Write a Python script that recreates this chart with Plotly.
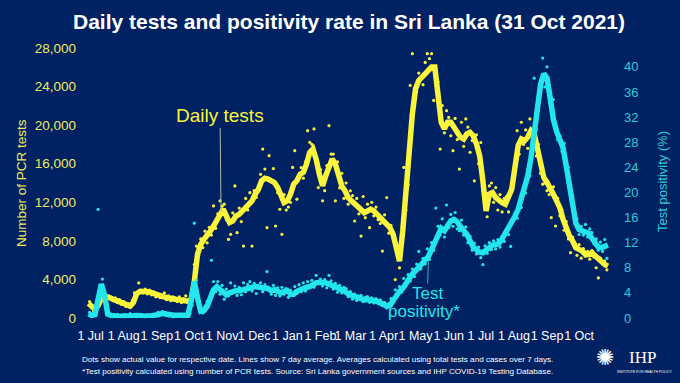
import pandas as pd
import plotly.graph_objects as go

# ---------------- data ----------------
start_date = "2020-06-29"          # first 7-day-average point
first_dot_date = "2020-06-30"      # first daily dot

# 7-day averages, every 3rd day
tests_avg = [
    1500, 1200, 900, 1300, 2000, 2250, 2200, 2050, 1900, 1750,
    1600, 1450, 1300, 1250, 1600, 2500, 2750, 2800, 2750, 2700,
    2550, 2400, 2300, 2250, 2150, 2050, 2000, 1950, 1900, 1850,
    1800, 1750, 1900, 3800, 6600, 7630, 8150, 8500, 9000, 9540,
    10060, 10750, 11280, 10580, 9890, 10060, 10580, 10750, 11100, 11280,
    11800, 12150, 12840, 13360, 14230, 14500, 14400, 14230, 14050, 13530,
    12670, 11970, 12150, 12840, 13880, 14230, 14920, 15100, 15960, 17180,
    17520, 16480, 14920, 13700, 14750, 15790, 16480, 15960, 14570, 13700,
    13190, 12490, 12150, 11800, 11450, 11100, 10930, 11100, 11280, 11100,
    10750, 10410, 10060, 9720, 9370, 8680, 6940, 5900, 9020, 13190,
    16300, 21170, 23770, 24640, 24980, 25330, 25850, 26030, 26030, 23600,
    20300, 19610, 20300, 20300, 19780, 19090, 18740, 18560, 19090, 19260,
    18910, 18040, 16830, 14230, 11100, 12840, 13010, 12490, 12150, 11970,
    11800, 12490, 13360, 15620, 17870, 18560, 18390, 18740, 19430, 19090,
    17520, 16140, 14570, 14050, 13530, 12840, 12150, 11450, 10240, 9200,
    8500, 7980, 7290, 7110, 6940, 6590, 6590, 6770, 6420, 6070,
    5900, 5550, 5380,
]

positivity_avg = [
    0.64, 0.42, 0.53, 2.65, 5.4, 3.7, 0.64, 0.42, 0.3, 0.3,
    0.25, 0.3, 0.25, 0.3, 0.35, 0.4, 0.3, 0.25, 0.3, 0.3,
    0.35, 0.4, 0.55, 0.75, 0.65, 0.45, 0.35, 0.4, 0.45, 0.4,
    0.35, 0.45, 2.65, 5.8, 3.2, 1.06, 1.17, 1.86, 3.2, 4.5,
    5.0, 4.5, 4.0, 3.7, 4.0, 4.25, 4.35, 4.35, 4.5, 4.5,
    4.7, 4.9, 5.0, 4.9, 4.8, 4.9, 4.7, 4.35, 4.5, 4.25,
    4.0, 4.25, 4.35, 3.8, 3.8, 4.25, 4.5, 4.7, 4.9, 5.0,
    5.4, 5.6, 5.7, 5.7, 5.6, 5.4, 5.2, 5.0, 4.7, 4.5,
    4.25, 3.8, 3.6, 3.3, 3.2, 3.1, 2.9, 2.9, 2.9, 2.8,
    2.65, 2.4, 2.1, 1.9, 2.0, 2.8, 3.8, 4.25, 4.7, 5.6,
    6.4, 7.0, 7.5, 8.1, 8.6, 9.1, 9.8, 10.9, 12.2, 13.5,
    14.3, 13.9, 14.9, 15.5, 15.7, 15.3, 14.6, 14.1, 13.3, 12.3,
    11.3, 10.9, 10.5, 10.4, 10.9, 11.4, 11.6, 11.7, 11.9, 12.6,
    13.4, 14.3, 15.1, 16.2, 17.3, 18.9, 20.6, 22.6, 25.5, 29.7,
    33.5, 37.2, 38.9, 38.2, 35.0, 31.6, 29.7, 28.1, 27.1, 24.2,
    21.2, 18.3, 15.1, 14.1, 13.9, 13.8, 13.5, 12.7, 11.8, 11.3,
    11.2, 11.4, 11.6,
]

# daily values (dots), every 2nd day
tests_daily = [
    1700, 1100, 700, 1000, 1500, 2000, 2400, 2600, 2000, 2300,
    2200, 1800, 2100, 1600, 1900, 1400, 1700, 1200, 1500, 1100,
    1800, 2600, 2400, 3640, 2900, 2600, 3000, 2500, 2900, 2400,
    2700, 2200, 2500, 2100, 2400, 2600, 1900, 2300, 1800, 2200,
    2100, 1700, 2200, 1600, 2000, 2300, 1600, 2000, 2500, 5550,
    7460, 6500, 8200, 7300, 9000, 7800, 9400, 8600, 11620, 9300,
    10800, 12150, 11600, 11800, 10200, 8150, 8680, 10900, 13700, 8850,
    11400, 10000, 7460, 12400, 11200, 13000, 7460, 13200, 12500, 13700,
    14900, 17520, 15440, 9370, 16830, 14200, 15500, 9540, 13000, 11280,
    8680, 12800, 11200, 11500, 12000, 15620, 17350, 12320, 14800, 15600,
    14500, 16200, 19430, 18220, 18000, 19610, 16000, 13530, 15400, 12150,
    13200, 15800, 19950, 17000, 17000, 12150, 16200, 13500, 15000, 12400,
    14000, 11800, 13190, 12700, 10060, 12400, 10800, 8500, 12600, 10400,
    11800, 9370, 12000, 10600, 11500, 10200, 9800, 6940, 10700, 12490,
    8800, 9600, 8300, 3990, 7000, 5200, 8000, 15620, 11200, 13800,
    24120, 27410, 22000, 23500, 25400, 28110, 24200, 26500, 27410, 26890,
    27410, 22560, 25200, 24500, 17520, 22030, 19200, 21500, 20800, 18900,
    17350, 20700, 18500, 15440, 20300, 17800, 20640, 19800, 17180, 18400,
    14230, 19000, 16000, 18200, 13200, 12000, 10500, 13700, 14000, 12000,
    13530, 11200, 12800, 11000, 12400, 12600, 11000, 13000, 14230, 15500,
    19430, 17000, 20300, 18000, 19500, 17600, 20640, 19000, 18300, 16800,
    18000, 15000, 13880, 14000, 13200, 12800, 10410, 13600, 9540, 12400,
    10600, 11200, 9100, 10000, 8200, 6770, 8400, 7800, 6500, 7600,
    6200, 7200, 6400, 6900, 6100, 7000, 6300, 5210, 4160, 6200,
    5600, 5900, 5000,
]

positivity_daily = [
    0.9, 0.3, 0.6, 0.8, 17.3, 4.6, 6.2, 3.2, 1.0, 0.4,
    0.5, 0.2, 0.4, 0.6, 0.3, 0.2, 0.5, 0.3, 0.4, 0.7,
    0.3, 0.5, 0.2, 0.4, 0.6, 0.3, 0.2, 0.5, 0.4, 0.3,
    0.6, 0.4, 0.9, 0.7, 1.0, 0.5, 0.4, 0.3, 0.6, 0.2,
    0.5, 0.3, 0.6, 0.4, 0.3, 0.5, 0.4, 0.7, 2.0, 15.1,
    6.0, 3.5, 1.5, 0.8, 1.9, 2.6, 3.0, 9.2, 5.8, 4.2,
    5.8, 3.8, 5.2, 3.0, 4.6, 3.5, 5.6, 4.0, 5.1, 3.6,
    4.9, 3.7, 5.6, 4.2, 5.3, 5.8, 4.3, 5.5, 3.9, 5.2,
    5.6, 4.2, 5.3, 7.4, 4.6, 3.8, 5.2, 3.6, 4.8, 3.5,
    4.9, 3.8, 4.7, 3.3, 4.4, 3.6, 5.0, 3.9, 5.3, 4.2,
    5.6, 4.3, 5.8, 5.2, 6.0, 4.9, 6.8, 5.5, 6.2, 5.1,
    6.1, 4.8, 6.8, 5.9, 4.6, 5.5, 4.1, 5.2, 4.0, 4.9,
    4.7, 3.4, 4.2, 3.0, 3.8, 2.8, 3.5, 3.6, 2.6, 3.3,
    3.4, 2.5, 3.2, 2.4, 3.1, 2.3, 2.9, 2.0, 2.5, 1.6,
    2.3, 3.1, 2.6, 4.5, 3.6, 5.0, 4.1, 6.3, 5.2, 6.9,
    5.9, 7.8, 6.6, 8.6, 10.6, 7.8, 9.5, 8.6, 11.0, 9.3,
    12.0, 10.8, 17.5, 14.6, 13.2, 15.8, 12.9, 18.0, 14.4, 16.5,
    14.6, 16.8, 14.2, 13.9, 15.6, 13.2, 14.5, 12.0, 13.0, 10.8,
    11.9, 10.2, 11.3, 9.6, 8.5, 11.5, 10.3, 12.0, 10.9, 12.3,
    11.0, 12.5, 11.3, 13.0, 12.2, 14.1, 13.3, 11.4, 15.8, 16.6,
    15.9, 18.5, 17.6, 20.8, 19.9, 23.2, 22.6, 27.0, 38.2, 30.0,
    35.5, 43.3, 41.4, 36.8, 40.0, 36.2, 34.0, 34.8, 30.8, 28.4,
    29.0, 26.5, 27.8, 23.8, 24.0, 19.8, 19.5, 15.7, 15.8, 13.3,
    14.6, 13.2, 14.9, 12.9, 14.2, 13.6, 11.8, 12.6, 10.8, 12.1,
    10.6, 12.5, 9.5,
]

month_ticks = ["2020-07-01", "2020-08-01", "2020-09-01", "2020-10-01", "2020-11-01",
               "2020-12-01", "2021-01-01", "2021-02-01", "2021-03-01", "2021-04-01",
               "2021-05-01", "2021-06-01", "2021-07-01", "2021-08-01", "2021-09-01",
               "2021-10-01"]
month_labels = ["1 Jul", "1 Aug", "1 Sep", "1 Oct", "1 Nov", "1 Dec", "1 Jan", "1 Feb",
                "1 Mar", "1 Apr", "1 May", "1 Jun", "1 Jul", "1 Aug", "1 Sep", "1 Oct"]

# ---------------- styling ----------------
BG = "#002162"
YEL = "#FBF43A"
CYN = "#22E6EC"
YEL_TXT = "#EEEC5C"
CYN_TXT = "#2FCAD8"
FONT = "Liberation Sans, Arial, sans-serif"

avg_dates = pd.date_range(start_date, periods=len(tests_avg), freq="3D")
daily_dates = pd.date_range(first_dot_date, periods=len(tests_daily), freq="2D")

fig = go.Figure()
fig.add_trace(go.Scatter(x=daily_dates, y=tests_daily, mode="markers",
                         marker=dict(size=3.2, color=YEL), cliponaxis=False,
                         name="Daily tests"))
fig.add_trace(go.Scatter(x=daily_dates, y=positivity_daily, mode="markers", yaxis="y2",
                         marker=dict(size=3.2, color=CYN), cliponaxis=False,
                         name="Test positivity"))
fig.add_trace(go.Scatter(x=avg_dates, y=tests_avg, mode="lines",
                         line=dict(color=YEL, width=5.5), name="Daily tests (7-day avg)"))
fig.add_trace(go.Scatter(x=avg_dates, y=positivity_avg, mode="lines", yaxis="y2",
                         line=dict(color=CYN, width=5.5), name="Test positivity (7-day avg)"))

W, H = 680, 383
ML, MR, MT, MB = 80, 62, 48, 65
PW, PH = W - ML - MR, H - MT - MB


def px(xp):
    return (xp - ML) / PW


def py(yp):
    return (H - MB - yp) / PH


def note(text, x, y, size, color, family=FONT, xanchor="center", angle=0):
    return dict(text=text, x=px(x), y=py(y), xref="paper", yref="paper",
                xanchor=xanchor, yanchor="middle", showarrow=False, textangle=angle,
                font=dict(family=family, size=size, color=color))


annotations = [
    # axis titles
    note("Number of PCR tests", 21, 183, 13.5, YEL_TXT, angle=-90),
    note("Test positivity (%)", 662, 182, 13, CYN_TXT, angle=-90),
    # series labels
    dict(text="Daily tests", x="2020-10-31", y=11000, xref="x", yref="y",
         showarrow=True, arrowhead=0, arrowwidth=1, arrowcolor="#B9B8A0",
         ax=-1, ay=-96, font=dict(family=FONT, size=19, color=YEL)),
    dict(text="Test", x="2021-05-13", y=9.0, xref="x", yref="y2",
         showarrow=True, arrowhead=0, arrowwidth=1, arrowcolor="#3AAFC0",
         ax=-1, ay=32, borderpad=0, font=dict(family=FONT, size=17, color=CYN)),
    note("positivity*", 424, 311, 17, CYN),
    # footnote
    note("Dots show actual value for respective date. Lines show 7 day average. "
         "Averages calculated using total tests and cases over 7 days.",
         80, 360, 8.1, "white", xanchor="left"),
    note("*Test positivity calculated using number of PCR tests. Source: Sri Lanka government "
         "sources and IHP COVID-19 Testing Database.",
         80, 371, 8.1, "white", xanchor="left"),
    # logo
    note("✺", 605, 357, 22, "white", family="DejaVu Sans"),
    note("IHP", 642, 357, 17, "white", family="Liberation Serif, DejaVu Serif, serif"),
    note("INSTITUTE FOR HEALTH POLICY", 644, 372, 3.5, "white"),
]

fig.update_layout(
    width=W, height=H,
    margin=dict(l=ML, r=MR, t=MT, b=MB),
    paper_bgcolor=BG, plot_bgcolor=BG,
    showlegend=False,
    font=dict(family=FONT, color="white"),
    title=dict(text="<b>Daily tests and positivity rate in Sri Lanka (31 Oct 2021)</b>",
               x=0.5, xref="paper", xanchor="center", y=1 - 22 / H, yref="container",
               yanchor="middle", font=dict(family=FONT, size=21, color="white")),
    xaxis=dict(type="date", range=["2020-06-21 01:00", "2021-11-06 10:00"],
               tickmode="array", tickvals=month_ticks, ticktext=month_labels, tickangle=0,
               tickfont=dict(family=FONT, size=12.5, color="white"),
               showgrid=False, zeroline=False, showline=False, ticks="", ticklabelstandoff=8),
    yaxis=dict(range=[0, 28000], tickmode="linear", tick0=0, dtick=4000, tickformat=",",
               tickfont=dict(family=FONT, size=13.5, color=YEL_TXT),
               showgrid=False, zeroline=False, showline=False, ticks="", ticklabelstandoff=3),
    yaxis2=dict(range=[0, 43.0], overlaying="y", side="right", tickmode="linear", tick0=0, dtick=4,
                tickfont=dict(family=FONT, size=13, color=CYN_TXT),
                showgrid=False, zeroline=False, showline=False, ticks="", ticklabelstandoff=5),
    annotations=annotations,
)

fig.write_html("out.html", config={"displayModeBar": False},
               post_script="document.body.style.margin='0';")
